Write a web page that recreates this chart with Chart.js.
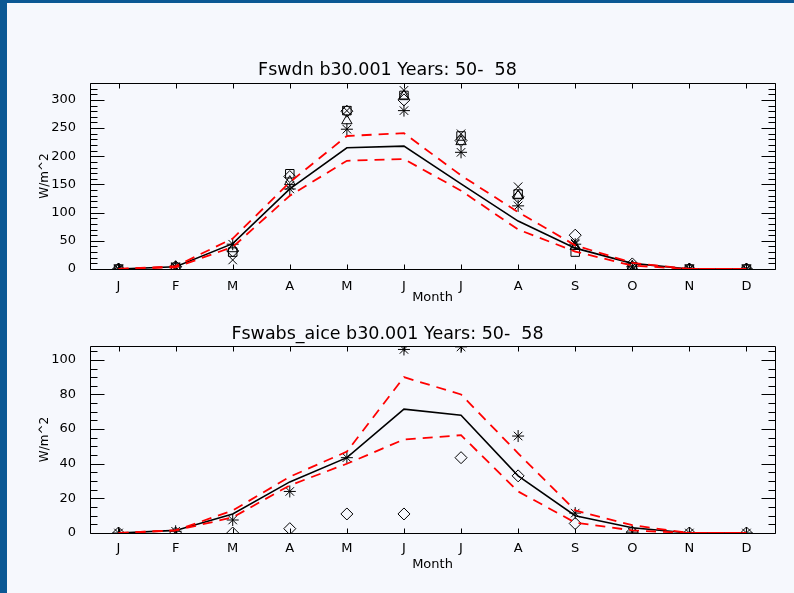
<!DOCTYPE html>
<html>
<head>
<meta charset="utf-8">
<script src="https://cdn.jsdelivr.net/npm/chart.js@4.4.1/dist/chart.umd.min.js"></script>
<style>
html, body { margin: 0; padding: 0; }
body { width: 794px; height: 593px; background: #f6f8fd; position: relative; overflow: hidden; }
.edge { position: absolute; background: #0b5894; z-index: 5; }
#edgeLeft { left: 0; top: 0; width: 7px; height: 593px; }
#edgeTop { left: 0; top: 0; width: 794px; height: 3px; }
#c1 { position: absolute; left: 0; top: 0; }
#c2 { position: absolute; left: 0; top: 310px; }
</style>
</head>
<body>
<div class="edge" id="edgeLeft"></div>
<div class="edge" id="edgeTop"></div>
<canvas id="c1" width="794" height="310"></canvas>
<canvas id="c2" width="794" height="283"></canvas>
<script>
var months = ["J", "F", "M", "A", "M", "J", "J", "A", "S", "O", "N", "D"];

// Fswdn (W/m^2)
var swdnMean  = [0, 4, 45, 142, 215, 218, 151, 85, 37, 10, 0, 0];
var swdnUpper = [0, 5, 54, 154, 236, 241, 166, 101, 42, 11, 0, 0];
var swdnLower = [0, 3, 39, 130, 192, 195, 139, 70, 31, 6, 0, 0];
var swdnStar     = [0, 4, 44, 142, 248, 281, 207, 112, 44, 4, 0, 0];
var swdnCross    = [0, 3, 16, 148, 281, 317, 240, 146, 46, 4, 0, 0];
var swdnDiamond  = [0, 4, 32, 164, 280, 300, 228, 128, 60, 9, 0, 0];
var swdnTriangle = [0, 3, 36, 155, 263, 307, 226, 130, 40, 5, 0, 0];
var swdnSquare   = [0, 3, 30, 169, 281, 308, 236, 133, 30, 4, 0, 0];

// Fswabs_aice (W/m^2)
var absMean  = [0, 1.5, 11, 29.5, 43.5, 71.5, 68, 33, 10, 3, 0, 0];
var absUpper = [0, 1.5, 13, 32.5, 47, 90, 80, 46, 13, 4.5, 0, 0];
var absLower = [0, 1.5, 9, 27.5, 40, 54, 56.5, 24, 6, 1.5, 0, 0];
var absStar    = [0, 1, 7.5, 24, 43.5, 106, 107.5, 56, 11.5, 0.5, 0, 0];
var absDiamond = [0, 0, 0, 2.5, 11, 11, 43.5, 33, 5.5, 0.5, 0, 0];

var FONT = "'DejaVu Sans', sans-serif";

// box around the plot with inward tick marks (IDL style)
var framePlugin = {
    id: 'frame',
    beforeDatasetsDraw: function(chart, args, opts) {
        var ctx = chart.ctx, a = chart.chartArea;
        var xs = chart.scales.x, ys = chart.scales.y;
        var l = Math.round(a.left) + 0.5, r = Math.round(a.right) + 0.5;
        var t = Math.round(a.top) + 0.5, b = Math.round(a.bottom) + 0.5;
        ctx.save();
        ctx.strokeStyle = '#000';
        ctx.lineWidth = 1;
        ctx.beginPath();
        ctx.rect(l, t, r - l, b - t);
        for (var v = 0; v <= ys.max; v += opts.minor) {
            var py = Math.round(ys.getPixelForValue(v)) + 0.5;
            var len = (v % opts.major === 0) ? 14 : 7;
            ctx.moveTo(l, py); ctx.lineTo(l + len, py);
            ctx.moveTo(r, py); ctx.lineTo(r - len, py);
        }
        for (var i = 0; i < months.length; i++) {
            var px = Math.round(xs.getPixelForValue(i)) + 0.5;
            ctx.moveTo(px, b); ctx.lineTo(px, b - 5);
            ctx.moveTo(px, t); ctx.lineTo(px, t + 5);
        }
        ctx.stroke();
        ctx.restore();
    }
};

function lineSet(values, color, dashed) {
    return {
        data: values,
        borderColor: color,
        borderWidth: dashed ? 1.8 : 1.6,
        borderDash: dashed ? [10, 7] : [],
        pointRadius: 0,
        tension: 0,
        fill: false
    };
}

function markerSet(values, style) {
    return {
        data: values,
        showLine: false,
        pointStyle: style,
        pointRadius: 6,
        pointBorderWidth: 1,
        pointBorderColor: '#000',
        pointBackgroundColor: 'rgba(0,0,0,0)',
        clip: 0
    };
}

function generateChart(canvasId, titleText, datasets, yMax, yStep, yMinor, sizes) {
    return new Chart(document.getElementById(canvasId), {
        type: 'line',
        data: { labels: months, datasets: datasets },
        plugins: [framePlugin],
        options: {
            responsive: false,
            animation: false,
            events: [],
            layout: { padding: { left: 0, right: 19, top: 0, bottom: 0 } },
            plugins: {
                legend: { display: false },
                tooltip: { enabled: false },
                title: {
                    display: true,
                    text: titleText,
                    color: '#000',
                    font: { family: FONT, size: 17.5, weight: 'normal' },
                    padding: { top: sizes.titleTop, bottom: sizes.titleBottom }
                },
                frame: { minor: yMinor, major: yStep }
            },
            scales: {
                x: {
                    type: 'category',
                    offset: true,
                    grid: { display: false },
                    border: { display: false },
                    ticks: {
                        color: '#000',
                        font: { family: FONT, size: 13 },
                        padding: sizes.xPad,
                        autoSkip: false,
                        maxRotation: 0
                    },
                    title: {
                        display: true,
                        text: 'Month',
                        color: '#000',
                        font: { family: FONT, size: 13 },
                        padding: { top: 0, bottom: sizes.monthBottom }
                    },
                    afterFit: function(scale) { scale.height = sizes.xHeight; }
                },
                y: {
                    min: 0,
                    max: yMax,
                    grid: { display: false },
                    border: { display: false },
                    ticks: {
                        stepSize: yStep,
                        includeBounds: false,
                        color: '#000',
                        font: { family: FONT, size: 13 },
                        padding: 6
                    },
                    title: {
                        display: true,
                        text: 'W/m^2',
                        color: '#000',
                        font: { family: FONT, size: 12 },
                        padding: { top: 37.8, bottom: 0 }
                    },
                    afterFit: function(scale) { scale.width = 90; }
                }
            }
        }
    });
}

generateChart('c1', 'Fswdn b30.001 Years: 50-  58', [
    lineSet(swdnUpper, '#ff0000', true),
    lineSet(swdnLower, '#ff0000', true),
    lineSet(swdnMean, '#000000', false),
    markerSet(swdnStar, 'star'),
    markerSet(swdnCross, 'crossRot'),
    markerSet(swdnDiamond, 'rectRot'),
    markerSet(swdnTriangle, 'triangle'),
    markerSet(swdnSquare, 'rect')
], 330, 50, 10, { titleTop: 59.5, titleBottom: 2.5, xPad: 2, xHeight: 41, monthBottom: 4.2 });

generateChart('c2', 'Fswabs_aice b30.001 Years: 50-  58', [
    lineSet(absUpper, '#ff0000', true),
    lineSet(absLower, '#ff0000', true),
    lineSet(absMean, '#000000', false),
    markerSet(absStar, 'star'),
    markerSet(absDiamond, 'rectRot')
], 108, 20, 5, { titleTop: 13.5, titleBottom: 1.5, xPad: 0, xHeight: 60, monthBottom: 20.9 });
</script>
</body>
</html>
